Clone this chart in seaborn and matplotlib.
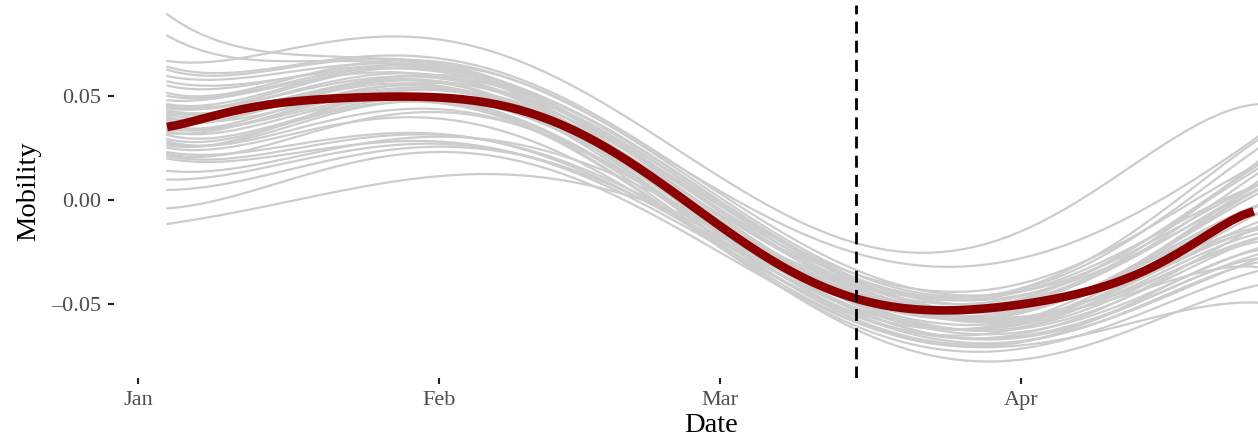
#%% libraries
import numpy as np
import pandas as pd
import matplotlib.pyplot as plt
import seaborn as sns

#%% data
# dates of the regional series (grey lines)
dates = ["2020-01-04", "2020-01-12", "2020-01-20", "2020-01-28", "2020-02-05",
         "2020-02-13", "2020-02-21", "2020-02-29", "2020-03-08", "2020-03-16",
         "2020-03-24", "2020-04-01", "2020-04-09", "2020-04-17", "2020-04-26"]

# dates of the average series (red line), every 4 days
mean_dates = pd.date_range("2020-01-04", "2020-04-25", freq="4D")

month_ticks = ["2020-01-01", "2020-02-01", "2020-03-01", "2020-04-01"]
month_labels = ["Jan", "Feb", "Mar", "Apr"]

# average mobility (red line)
mean_mobility = [0.0352, 0.0395, 0.0435, 0.0470, 0.0490, 0.0500, 0.0497, 0.0483,
                 0.0462, 0.0436, 0.0395, 0.0305, 0.0168, 0.0025, -0.0105, -0.0215,
                 -0.0322, -0.0430, -0.0490, -0.0515, -0.0524, -0.0521, -0.0513,
                 -0.0480, -0.0420, -0.0345, -0.0258, -0.0157, -0.0050]

# one series per region (grey lines)
region_mobility = [
    [0.088, 0.077, 0.068, 0.063, 0.060, 0.050, 0.030, 0.000, -0.024, -0.043, -0.050, -0.050, -0.043, -0.029, -0.012],
    [0.078, 0.071, 0.066, 0.062, 0.059, 0.048, 0.026, -0.004, -0.028, -0.047, -0.055, -0.055, -0.047, -0.031, -0.013],
    [0.066, 0.071, 0.075, 0.076, 0.073, 0.061, 0.041, 0.013, -0.010, -0.023, -0.024, -0.014, 0.007, 0.028, 0.047],
    [0.063, 0.065, 0.066, 0.066, 0.064, 0.054, 0.034, 0.004, -0.020, -0.037, -0.043, -0.042, -0.033, -0.015, 0.009],
    [0.0615, 0.064, 0.065, 0.064, 0.061, 0.049, 0.026, -0.006, -0.028, -0.045, -0.050, -0.048, -0.037, -0.015, 0.015],
    [0.0585, 0.062, 0.063, 0.062, 0.060, 0.050, 0.030, 0.000, -0.023, -0.041, -0.048, -0.046, -0.035, -0.013, 0.021],
    [0.054, 0.058, 0.061, 0.061, 0.059, 0.048, 0.024, -0.008, -0.031, -0.051, -0.060, -0.060, -0.053, -0.037, -0.017],
    [0.049, 0.055, 0.059, 0.060, 0.058, 0.046, 0.022, -0.010, -0.032, -0.049, -0.055, -0.053, -0.042, -0.019, 0.011],
    [0.047, 0.054, 0.058, 0.058, 0.055, 0.043, 0.020, -0.012, -0.034, -0.053, -0.062, -0.062, -0.055, -0.040, -0.022],
    [0.045, 0.050, 0.054, 0.056, 0.055, 0.045, 0.025, -0.004, -0.026, -0.041, -0.046, -0.044, -0.035, -0.017, 0.007],
    [0.044, 0.050, 0.055, 0.057, 0.056, 0.045, 0.020, -0.014, -0.036, -0.055, -0.064, -0.064, -0.057, -0.042, -0.025],
    [0.042, 0.048, 0.052, 0.054, 0.052, 0.041, 0.018, -0.016, -0.038, -0.054, -0.060, -0.058, -0.047, -0.027, -0.001],
    [0.040, 0.046, 0.050, 0.052, 0.051, 0.040, 0.016, -0.018, -0.040, -0.057, -0.064, -0.063, -0.054, -0.035, -0.011],
    [0.039, 0.043, 0.047, 0.050, 0.051, 0.043, 0.022, -0.008, -0.028, -0.043, -0.048, -0.045, -0.033, -0.011, 0.017],
    [0.037, 0.045, 0.051, 0.054, 0.053, 0.041, 0.015, -0.020, -0.042, -0.059, -0.067, -0.067, -0.060, -0.045, -0.027],
    [0.035, 0.040, 0.044, 0.046, 0.045, 0.035, 0.014, -0.016, -0.036, -0.049, -0.052, -0.048, -0.037, -0.017, 0.009],
    [0.034, 0.042, 0.048, 0.051, 0.050, 0.039, 0.014, -0.020, -0.042, -0.058, -0.063, -0.060, -0.049, -0.029, -0.005],
    [0.032, 0.038, 0.043, 0.045, 0.044, 0.033, 0.010, -0.022, -0.044, -0.061, -0.068, -0.068, -0.064, -0.055, -0.049],
    [0.030, 0.036, 0.041, 0.045, 0.046, 0.038, 0.018, -0.012, -0.033, -0.047, -0.050, -0.046, -0.033, -0.011, 0.019],
    [0.028, 0.035, 0.040, 0.043, 0.043, 0.033, 0.010, -0.024, -0.046, -0.063, -0.070, -0.070, -0.063, -0.049, -0.033],
    [0.027, 0.032, 0.036, 0.040, 0.041, 0.033, 0.014, -0.016, -0.036, -0.051, -0.055, -0.052, -0.041, -0.021, 0.005],
    [0.026, 0.033, 0.039, 0.043, 0.044, 0.035, 0.012, -0.022, -0.046, -0.065, -0.074, -0.075, -0.069, -0.055, -0.040],
    [0.024, 0.030, 0.034, 0.036, 0.036, 0.027, 0.008, -0.022, -0.042, -0.057, -0.060, -0.056, -0.043, -0.021, 0.007],
    [0.022, 0.026, 0.028, 0.029, 0.029, 0.022, 0.006, -0.020, -0.040, -0.055, -0.060, -0.058, -0.049, -0.033, -0.015],
    [0.021, 0.027, 0.033, 0.038, 0.040, 0.033, 0.014, -0.016, -0.038, -0.055, -0.060, -0.057, -0.045, -0.025, -0.001],
    [0.020, 0.024, 0.026, 0.028, 0.029, 0.023, 0.008, -0.018, -0.036, -0.050, -0.054, -0.051, -0.041, -0.023, -0.001],
    [0.019, 0.022, 0.024, 0.025, 0.026, 0.019, 0.004, -0.022, -0.042, -0.059, -0.066, -0.066, -0.059, -0.045, -0.029],
    [0.013, 0.019, 0.023, 0.026, 0.029, 0.025, 0.012, -0.012, -0.032, -0.047, -0.052, -0.050, -0.041, -0.025, -0.005],
    [0.009, 0.016, 0.021, 0.024, 0.025, 0.019, 0.006, -0.018, -0.038, -0.053, -0.058, -0.056, -0.047, -0.031, -0.013],
    [0.004, 0.012, 0.018, 0.022, 0.024, 0.019, 0.006, -0.018, -0.040, -0.057, -0.064, -0.064, -0.057, -0.043, -0.027],
    [-0.005, 0.006, 0.014, 0.019, 0.021, 0.016, 0.002, -0.024, -0.046, -0.063, -0.068, -0.066, -0.057, -0.041, -0.023],
    [-0.012, -0.004, 0.003, 0.008, 0.011, 0.011, 0.004, -0.012, -0.030, -0.046, -0.054, -0.054, -0.049, -0.040, -0.032],
    [0.050, 0.057, 0.061, 0.063, 0.062, 0.053, 0.034, 0.006, -0.018, -0.030, -0.028, -0.025, -0.017, 0.003, 0.033],
    [0.045, 0.052, 0.058, 0.062, 0.062, 0.053, 0.032, 0.002, -0.022, -0.039, -0.044, -0.041, -0.029, -0.005, 0.027],
    [0.036, 0.044, 0.051, 0.056, 0.058, 0.050, 0.030, 0.000, -0.024, -0.043, -0.051, -0.050, -0.041, -0.023, -0.001],
    [0.041, 0.047, 0.051, 0.054, 0.054, 0.045, 0.026, -0.002, -0.024, -0.039, -0.042, -0.038, -0.027, -0.007, 0.019],
    [0.031, 0.040, 0.047, 0.052, 0.054, 0.047, 0.028, -0.002, -0.026, -0.045, -0.054, -0.054, -0.047, -0.031, -0.009],
    [0.025, 0.034, 0.042, 0.048, 0.051, 0.044, 0.024, -0.008, -0.032, -0.049, -0.055, -0.052, -0.041, -0.021, 0.007],
    [0.056, 0.059, 0.060, 0.060, 0.058, 0.047, 0.026, -0.004, -0.028, -0.047, -0.056, -0.056, -0.049, -0.035, -0.019],
    [0.038, 0.046, 0.052, 0.056, 0.057, 0.048, 0.028, -0.002, -0.024, -0.040, -0.045, -0.041, -0.027, -0.001, 0.031],
    [0.033, 0.040, 0.046, 0.049, 0.050, 0.041, 0.020, -0.010, -0.034, -0.053, -0.060, -0.059, -0.051, -0.035, -0.017],
    [0.043, 0.051, 0.057, 0.060, 0.059, 0.048, 0.026, -0.004, -0.028, -0.043, -0.046, -0.042, -0.031, -0.013, 0.009],
]

policy_date = "2020-03-15"

#%% x axis in months either side of 1 March 2020 (centred so the polynomial fit stays well conditioned)
centre = pd.Timestamp("2020-03-01")
x_region = np.array((pd.to_datetime(dates) - centre).days, dtype=float) / 30
x_mean = np.array((mean_dates - centre).days, dtype=float) / 30
x_ticks = np.array((pd.to_datetime(month_ticks) - centre).days, dtype=float) / 30
x_policy = (pd.Timestamp(policy_date) - centre).days / 30
x_left = (pd.Timestamp("2020-01-01") - centre).days / 30 - 2.47 / 30
x_right = (pd.Timestamp("2020-01-01") - centre).days / 30 + 120.6 / 30

#%% plot
sns.set_theme(style="white")
plt.rcParams['font.family'] = ['Liberation Serif', 'DejaVu Serif']

fig = plt.figure(figsize=(12.58, 4.44), dpi=100)
# panel runs past the right edge of the picture, as in the original
ax = fig.add_axes([114 / 1258, 66 / 444, (1308 - 114) / 1258, 373 / 444])

# smoothed trend per region (grey)
for series in region_mobility:
    sns.regplot(x=x_region, y=np.array(series), order=6, ci=None, scatter=False, ax=ax,
                line_kws={"color": "#cccccc", "linewidth": 1.6})

# smoothed average (red)
sns.regplot(x=x_mean, y=np.array(mean_mobility), order=9, ci=None, scatter=False, ax=ax,
            line_kws={"color": "#8b0000", "linewidth": 6.2, "solid_capstyle": "butt"})

ax.axvline(x_policy, color="black", linewidth=2, linestyle=(0, (4.3, 2.6)))

ax.set_xlim(x_left, x_right)
ax.set_ylim(-0.0856, 0.0938)
ax.set_yticks([-0.05, 0.0, 0.05])
ax.yaxis.set_major_formatter(plt.FuncFormatter(lambda x, _: f'{x:.2f}'.replace('-', '\u2013')))
ax.set_xticks(x_ticks)
ax.set_xticklabels(month_labels)

for side in ["top", "right", "bottom", "left"]:
    ax.spines[side].set_visible(False)

ax.tick_params(axis="both", which="major", bottom=True, left=True, length=4.5, width=1.5,
               color="#222222", labelsize=16, labelcolor="#4d4d4d", pad=5)
ax.set_xlabel("Date", fontsize=20.5, color="black", labelpad=2)
ax.set_ylabel("Mobility", fontsize=20.5, color="black", labelpad=7)

fig.savefig("out.png", dpi=100)
